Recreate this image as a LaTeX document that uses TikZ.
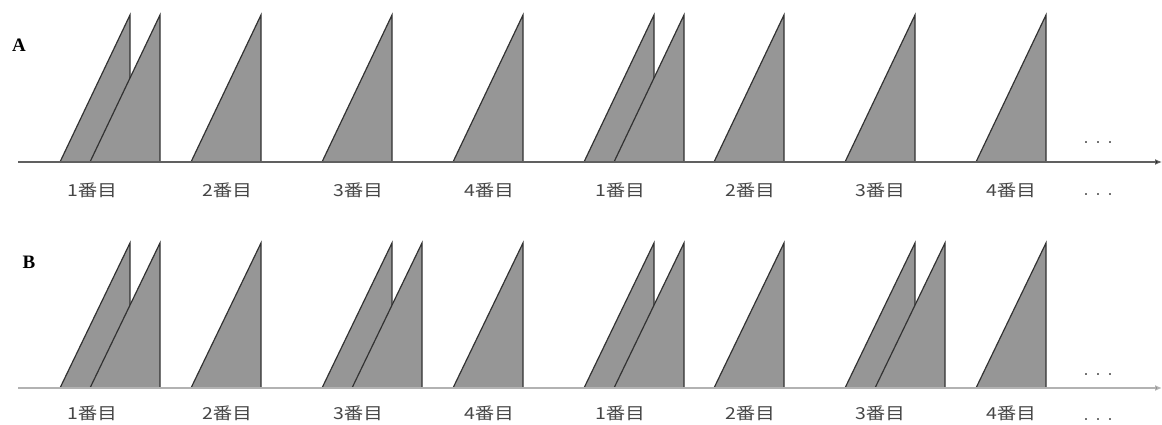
\documentclass[tikz,border=0pt]{standalone}
\usepackage{fontspec}
\newfontfamily\jpfont{Noto Sans CJK JP}
\newfontfamily\rowfont{Liberation Serif}
\usetikzlibrary{arrows.meta}
\definecolor{fillg}{RGB}{150,150,150}
\definecolor{edgeg}{RGB}{50,50,50}
\definecolor{txtg}{RGB}{70,70,70}
\begin{document}
\begin{tikzpicture}[x=1pt,y=-1pt,
  sawtri/.style={fill=fillg,draw=edgeg,line width=1.2pt,line join=miter},
  axisA/.style={draw=gray!75!black,line width=1.2pt,-{Latex[length=7pt,width=6pt,fill=black]}},
  axisB/.style={draw=gray!60,line width=1.6pt,-{Latex[length=7pt,width=6pt,fill=black]}},
  lbl/.style={font=\jpfont\fontsize{16.5}{16.5}\selectfont,text=txtg,inner sep=0pt,xscale=1.18},
  rowlbl/.style={font=\rowfont\bfseries\fontsize{19}{19}\selectfont,inner sep=0pt},
  dots/.style={font=\fontsize{24}{24}\selectfont,text=black!80,inner sep=0pt,anchor=base}]
\useasboundingbox (0,0) rectangle (1162,425);
\node[rowlbl] (labA) at (19,45) {A};
\node[rowlbl] (labB) at (29,262) {B};
% axes
\coordinate (a0) at (18,162);
\coordinate (a1) at (1162,162);
\coordinate (b0) at (18,388);
\coordinate (b1) at (1162,388);
% row A triangles
\foreach \x/\dbl in {60/1,191/0,322/0,453/0,584/1,714/0,845/0,976/0}{
  \draw[sawtri] (\x,162) -- (\x+70,15) -- (\x+70,162) -- cycle;
  \ifnum\dbl=1
    \draw[sawtri] (\x+30,162) -- (\x+100,15) -- (\x+100,162) -- cycle;
  \fi
}
% row B triangles
\foreach \x/\dbl in {60/1,191/0,322/1,453/0,584/1,714/0,845/1,976/0}{
  \draw[sawtri] (\x,388) -- (\x+70,243) -- (\x+70,388) -- cycle;
  \ifnum\dbl=1
    \draw[sawtri] (\x+30,388) -- (\x+100,243) -- (\x+100,388) -- cycle;
  \fi
}
\draw[axisA] (a0) -- (a1);
\draw[axisB] (b0) -- (b1);
% labels
\foreach \x/\k [count=\i] in {92/1,227/2,358/3,489/4,620/1,750/2,880/3,1011/4}{
  \node[lbl] (la\i) at (\x,190) {\k{}番目};
  \node[lbl] (lb\i) at (\x,413) {\k{}番目};
}
\node[dots] (dA1) at (1098,143) {.\hspace{6pt}.\hspace{6pt}.};
\node[dots] (dA2) at (1098,195) {.\hspace{6pt}.\hspace{6pt}.};
\node[dots] (dB1) at (1098,375) {.\hspace{6pt}.\hspace{6pt}.};
\node[dots] (dB2) at (1098,420) {.\hspace{6pt}.\hspace{6pt}.};
\end{tikzpicture}
\end{document}
